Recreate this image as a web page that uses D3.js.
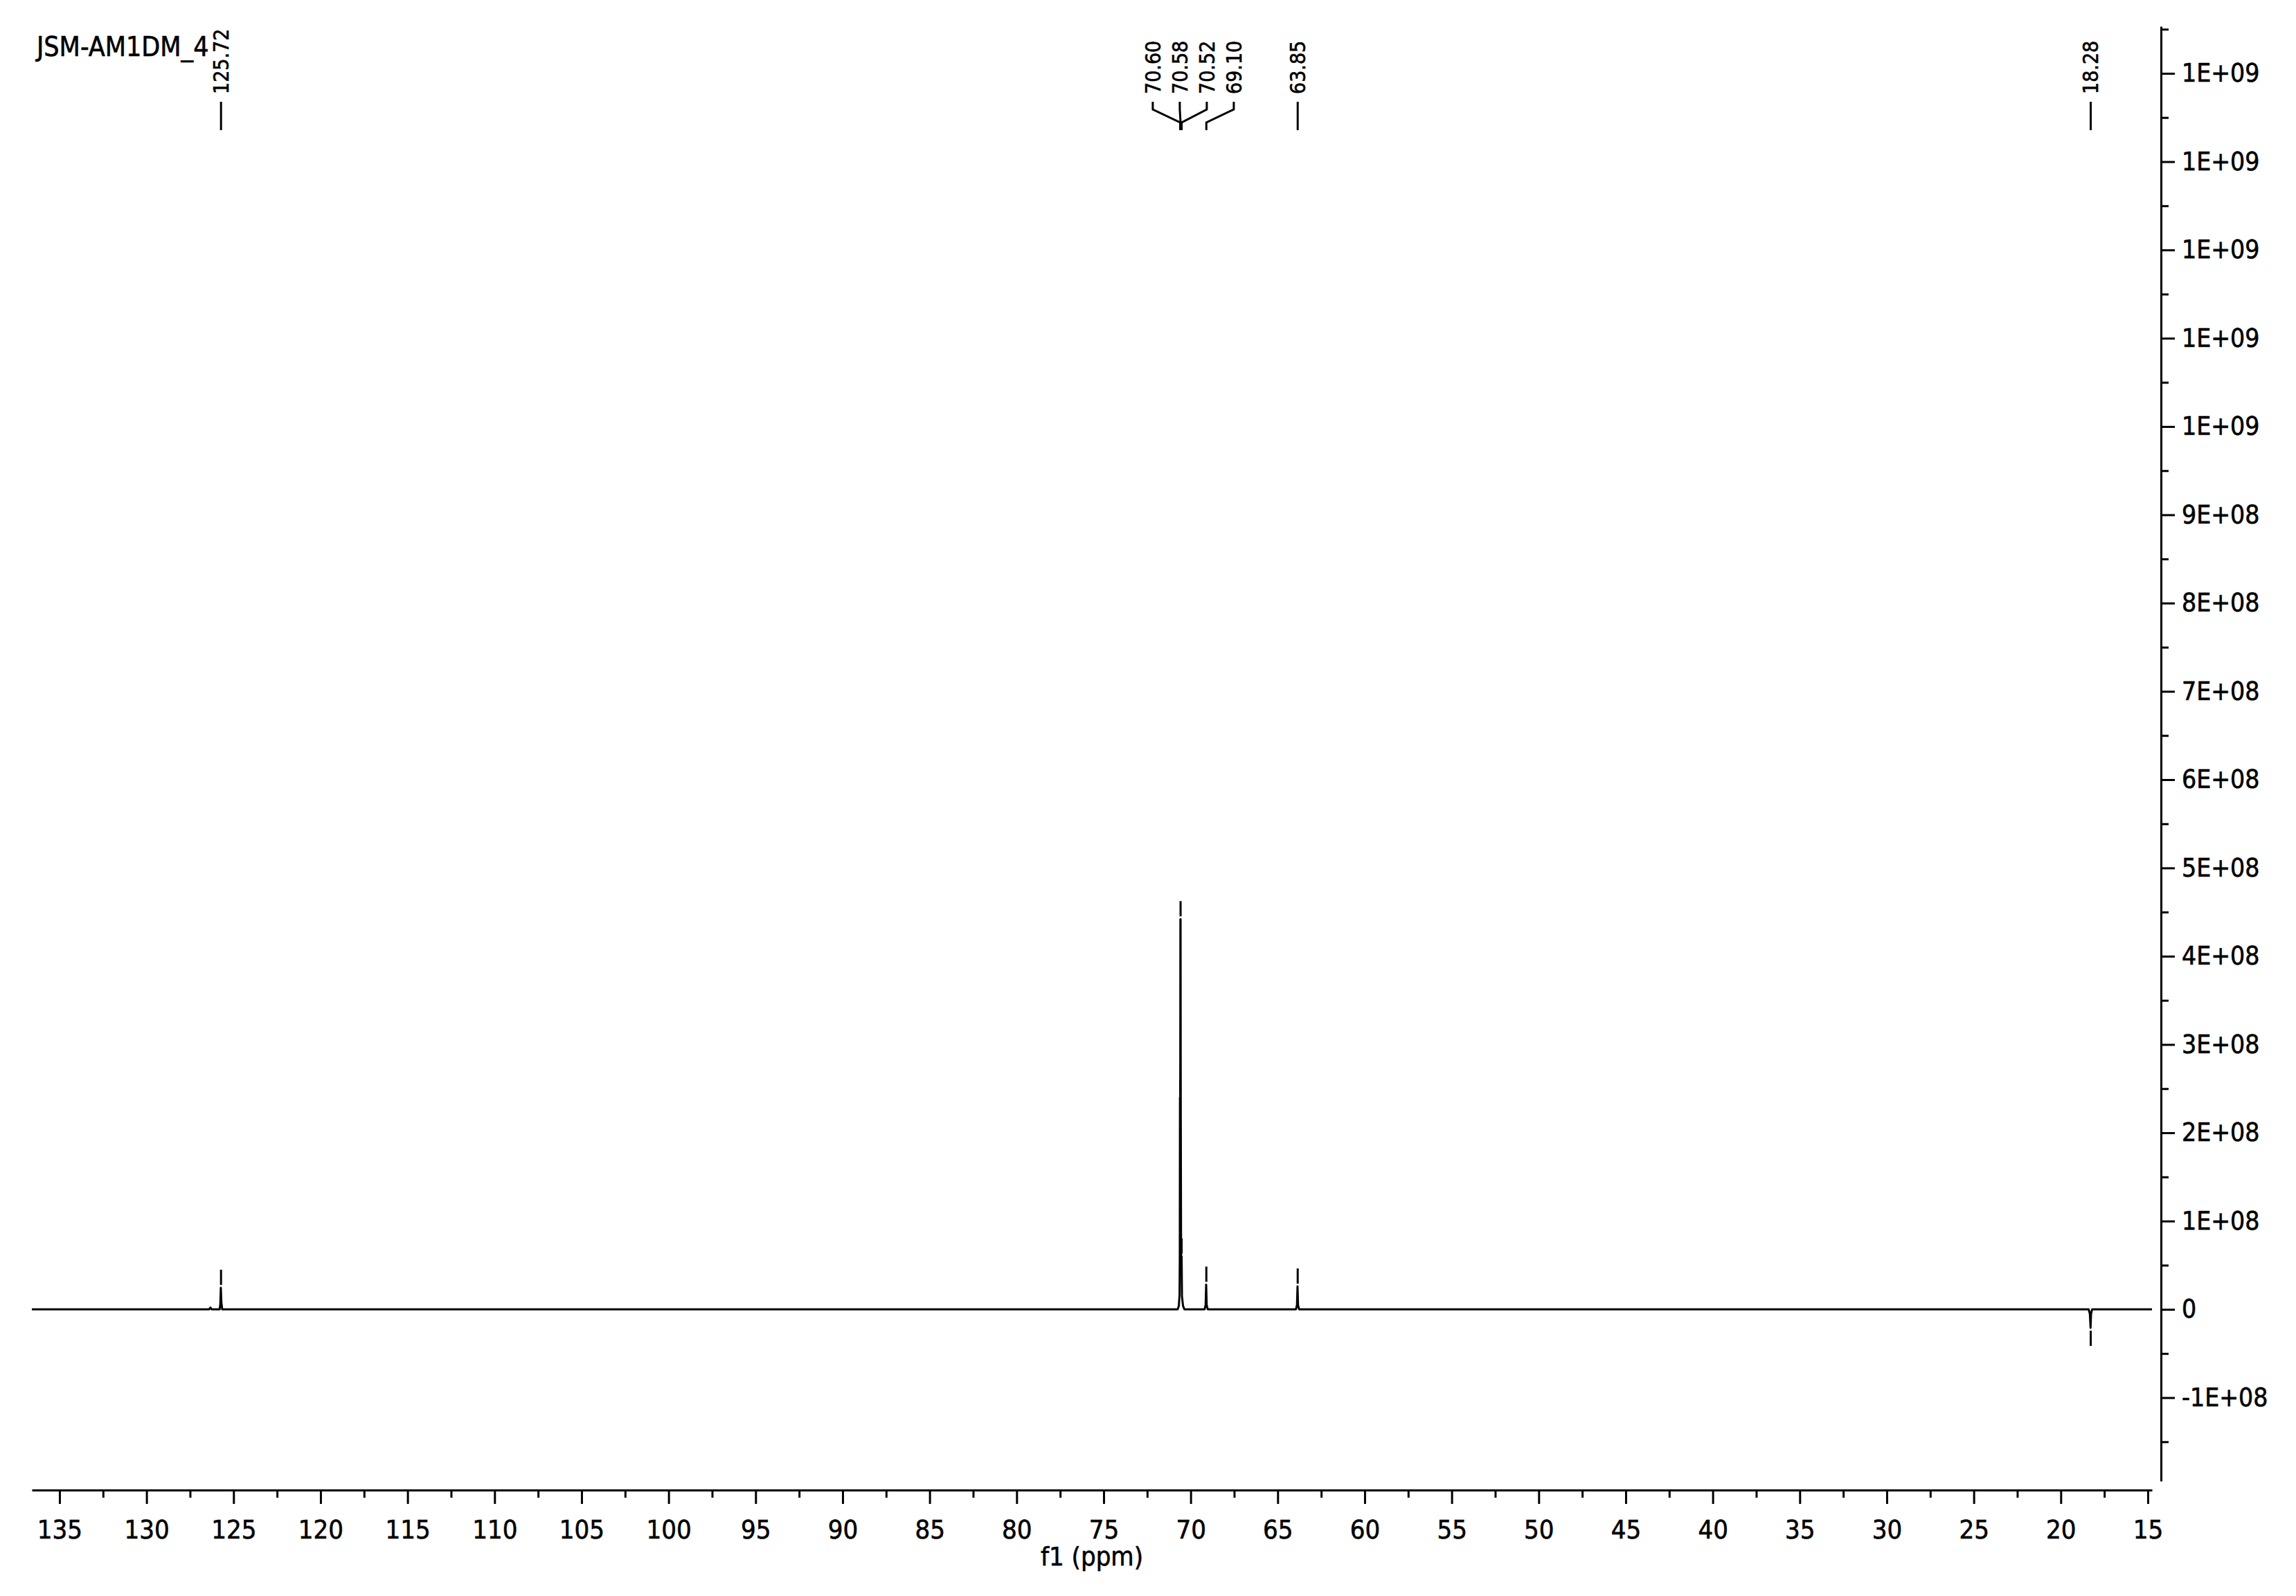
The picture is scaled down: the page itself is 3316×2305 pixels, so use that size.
<!DOCTYPE html>
<html>
<head>
<meta charset="utf-8">
<script src="https://cdn.jsdelivr.net/npm/d3@7"></script>
<style>
  body { margin: 0; background: #fff; }
  svg { display: block; background: #fff; }
  text { font-family: "DejaVu Sans Condensed", "DejaVu Sans", sans-serif; font-stretch: condensed; fill: #000; stroke: #000; stroke-width: 0.6px; }
</style>
</head>
<body>
<svg id="chart" width="3316" height="2305"></svg>
<script>
const title = "JSM-AM1DM_4";
const axisTitle = "f1 (ppm)";

// espectro: [ppm, intensidade]
const spectrum = [
  [136.59, 0], [126.40, 0], [126.33, 2.0e6], [126.26, 0],
  [125.80, 0], [125.76, 6e6], [125.73, 2.45e7], [125.70, 8e6], [125.65, 0],
  [70.75, 0], [70.68, 4e6], [70.64, 1.6e7], [70.625, 6e7], [70.615, 2.4e8], [70.60, 2.2e8],
  [70.59, 4.42e8], [70.58, 4.42e8], [70.57, 2.4e8], [70.55, 6.0e7], [70.52, 6.0e7],
  [70.50, 1.5e7], [70.44, 4e6], [70.36, 0],
  [69.20, 0], [69.14, 5e6], [69.11, 2.8e7], [69.08, 5e6], [69.02, 0],
  [63.95, 0], [63.89, 5e6], [63.86, 2.6e7], [63.83, 5e6], [63.77, 0],
  [18.40, 0], [18.33, -5e6], [18.29, -2.1e7], [18.26, -5e6], [18.20, 0],
  [14.76, 0],
];

// picos marcados
const peakPpm = [125.72, 70.60, 70.58, 70.52, 69.10, 63.85, 18.28];
const peakLabels = ["125.72", "70.60", "70.58", "70.52", "69.10", "63.85", "18.28"];
const peakHeights = [2.45e7, 2.4e8, 4.42e8, 6.0e7, 2.8e7, 2.6e7, -2.1e7];

const xTickValues = [135, 130, 125, 120, 115, 110, 105, 100, 95, 90, 85, 80, 75, 70, 65, 60, 55, 50, 45, 40, 35, 30, 25, 20, 15];
const xMinorTicks = [132.5, 127.5, 122.5, 117.5, 112.5, 107.5, 102.5, 97.5, 92.5, 87.5, 82.5, 77.5, 72.5, 67.5, 62.5, 57.5, 52.5, 47.5, 42.5, 37.5, 32.5, 27.5, 22.5, 17.5];

const yTickValues = [-1e8, 0, 1e8, 2e8, 3e8, 4e8, 5e8, 6e8, 7e8, 8e8, 9e8, 1.0e9, 1.1e9, 1.2e9, 1.3e9, 1.4e9];
const yTickLabels = ["-1E+08", "0", "1E+08", "2E+08", "3E+08", "4E+08", "5E+08", "6E+08", "7E+08", "8E+08", "9E+08", "1E+09", "1E+09", "1E+09", "1E+09", "1E+09"];
const yMinorTicks = [-1.5e8, -0.5e8, 0.5e8, 1.5e8, 2.5e8, 3.5e8, 4.5e8, 5.5e8, 6.5e8, 7.5e8, 8.5e8, 9.5e8, 1.05e9, 1.15e9, 1.25e9, 1.35e9, 1.45e9];

const svg = d3.select("#chart");

const x = d3.scaleLinear().domain([136.59, 14.76]).range([46, 3108]);
const y = d3.scaleLinear().domain([-1.945e8, 1.4533e9]).range([2139, 38]);

const axisY = 2152;
const axisX = 3121;

// Eixo X (ppm)
const gx = svg.append("g").attr("transform", `translate(0,${axisY})`);
gx.call(d3.axisBottom(x).tickValues(xTickValues).tickSize(20).tickSizeOuter(0).tickPadding(23));
gx.append("g").call(d3.axisBottom(x).tickValues(xMinorTicks).tickSize(11).tickFormat(""))
  .select(".domain").remove();
gx.selectAll("path, line").attr("stroke", "#000").attr("stroke-width", 3);
gx.selectAll("text").style("font-size", "38px").attr("fill", "#000");

svg.append("text")
  .attr("x", (x.range()[0] + x.range()[1]) / 2)
  .attr("y", 2261)
  .attr("text-anchor", "middle")
  .style("font-size", "38px")
  .text(axisTitle);

// Eixo Y à direita
const gy = svg.append("g").attr("transform", `translate(${axisX},0)`);
gy.call(d3.axisRight(y).tickValues(yTickValues).tickFormat((d, i) => yTickLabels[i])
  .tickSize(20).tickSizeOuter(0).tickPadding(10));
gy.append("g").call(d3.axisRight(y).tickValues(yMinorTicks).tickSize(11).tickFormat(""))
  .select(".domain").remove();
gy.selectAll("path, line").attr("stroke", "#000").attr("stroke-width", 3);
gy.selectAll("text").style("font-size", "37px").attr("fill", "#000");

// Espectro
const line = d3.line()
  .x((d) => x(d[0]))
  .y((d) => y(d[1]));

svg.append("path")
  .datum(spectrum)
  .attr("fill", "none")
  .attr("stroke", "#000")
  .attr("stroke-width", 3)
  .attr("stroke-linejoin", "round")
  .attr("d", line);

// marcadores acima/abaixo dos picos
const peaks = peakPpm.map((p, i) => ({ ppm: p, label: peakLabels[i], h: peakHeights[i], px: x(p) }));

svg.selectAll(".peak-mark")
  .data(peaks)
  .enter()
  .append("line")
  .attr("class", "peak-mark")
  .attr("x1", (d) => d.px)
  .attr("x2", (d) => d.px)
  .attr("y1", (d) => (d.h >= 0 ? y(d.h) - 4 : y(d.h) + 4))
  .attr("y2", (d) => (d.h >= 0 ? y(d.h) - 26 : y(d.h) + 26))
  .attr("stroke", "#000")
  .attr("stroke-width", 3);

// Rótulos dos picos: espalha os que ficam muito próximos
const minGap = 39;
const sorted = peaks.slice().sort((a, b) => a.px - b.px);
let clusters = sorted.map((d) => [d]);
const place = (c) => {
  const mid = (c[0].px + c[c.length - 1].px) / 2;
  c.forEach((d, i) => (d.lx = mid + (i - (c.length - 1) / 2) * minGap));
};
clusters.forEach(place);
let merged = true;
while (merged) {
  merged = false;
  for (let i = 0; i < clusters.length - 1; i++) {
    const a = clusters[i];
    const b = clusters[i + 1];
    if (b[0].lx - a[a.length - 1].lx < minGap) {
      clusters.splice(i, 2, a.concat(b));
      place(clusters[i]);
      merged = true;
      break;
    }
  }
}

const labelBottom = 136;
const g = svg.append("g");

g.selectAll(".peak-label")
  .data(peaks)
  .enter()
  .append("text")
  .attr("class", "peak-label")
  .attr("transform", (d) => `translate(${d.lx},${labelBottom}) rotate(-90)`)
  .attr("dy", "0.36em")
  .style("font-size", "30px")
  .text((d) => d.label);

g.selectAll(".peak-link")
  .data(peaks)
  .enter()
  .append("path")
  .attr("class", "peak-link")
  .attr("fill", "none")
  .attr("stroke", "#000")
  .attr("stroke-width", 3)
  .attr("d", (d) => `M${d.lx},147 L${d.lx},158 L${d.px},177 L${d.px},188`);

// Título
svg.append("text")
  .attr("x", 53)
  .attr("y", 81)
  .style("font-size", "39px")
  .text(title);
</script>
</body>
</html>
